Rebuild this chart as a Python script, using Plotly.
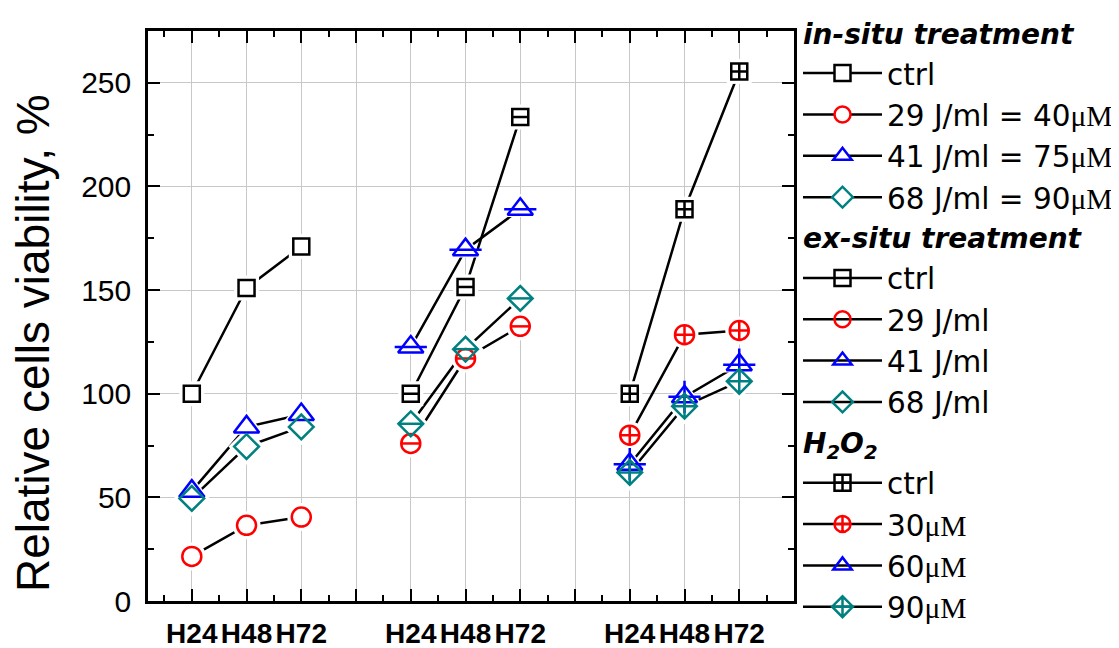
import plotly.graph_objects as go

# ---------------- data ----------------
time_labels = ["H24", "H48", "H72"]
group_titles = ["<b><i>in-situ treatment</i></b>",
                "<b><i>ex-situ treatment</i></b>",
                "<b><i>H<sub>2</sub>O<sub>2</sub></i></b>"]

in_situ_names = ["ctrl", "29 J/ml = 40μM", "41 J/ml = 75μM", "68 J/ml = 90μM"]
in_situ_ctrl = [100, 151, 171]
in_situ_29 = [21.5, 36.5, 40.5]
in_situ_41 = [53, 84, 90]
in_situ_68 = [49.5, 74.5, 84]

ex_situ_names = ["ctrl", "29 J/ml", "41 J/ml", "68 J/ml"]
ex_situ_ctrl = [100, 151.5, 233.5]
ex_situ_29 = [76, 117, 132.5]
ex_situ_41 = [122.5, 169.5, 189]
ex_situ_68 = [85.5, 121.5, 146]

h2o2_names = ["ctrl", "30μM", "60μM", "90μM"]
h2o2_ctrl = [100, 189, 255.5]
h2o2_30 = [80, 128.5, 130.5]
h2o2_60 = [66, 98.5, 114]
h2o2_90 = [62, 94, 106]

groups = [
    (in_situ_names, [in_situ_ctrl, in_situ_29, in_situ_41, in_situ_68]),
    (ex_situ_names, [ex_situ_ctrl, ex_situ_29, ex_situ_41, ex_situ_68]),
    (h2o2_names, [h2o2_ctrl, h2o2_30, h2o2_60, h2o2_90]),
]

# ---------------- styles ----------------
colors = ["#000000", "#FF0000", "#0000FF", "#008080"]
shapes = ["square", "circle", "triangle-up", "diamond"]
sizes = {"square": 16, "circle": 19, "triangle-up": 22, "diamond": 19}
bar_sizes = {"square": 11, "circle": 13, "triangle-up": 23, "diamond": 17}
LW = 2.5
TXT = "Liberation Sans"
LEG = "DejaVu Sans"


def mu(s):
    return s.replace("μM", "<span style='font-family:Liberation Serif'>μM</span>")


fig = go.Figure()

n_per_group = len(time_labels) + 1
all_ticks = []
all_ticktext = []
for gi in range(len(groups)):
    for ti, lab in enumerate(time_labels):
        all_ticks.append(gi * n_per_group + ti + 1)
        all_ticktext.append(lab)
    if gi < len(groups) - 1:
        all_ticks.append(gi * n_per_group + len(time_labels) + 1)
        all_ticktext.append("")

series = []
for gi, (names, vals) in enumerate(groups):
    xs = [gi * n_per_group + ti + 1 for ti in range(len(time_labels))]
    for si, (nm, yv) in enumerate(zip(names, vals)):
        series.append((gi, si, nm, xs, yv))

# 1) main traces (lines + legend)
for gi, si, nm, xs, yv in series:
    shp = shapes[si]
    c = colors[si]
    if gi == 0:
        mk = dict(symbol=shp, size=sizes[shp], color="white", line=dict(color=c, width=LW))
    elif gi == 1:
        mk = dict(symbol=shp + "-open", size=sizes[shp], color=c, line=dict(color=c, width=LW))
    else:
        sym = shp + "-open" if shp == "triangle-up" else shp + "-cross-open"
        mk = dict(symbol=sym, size=sizes[shp], color=c, line=dict(color=c, width=LW))
    fig.add_trace(go.Scatter(
        x=xs, y=yv, mode="lines+markers", name=mu(nm),
        line=dict(color="black", width=LW), marker=mk,
        legendgroup="g%d" % gi,
        legendgrouptitle=dict(text=group_titles[gi]),
        showlegend=True,
    ))

# 2) white halos to make line gaps around markers
for gi, si, nm, xs, yv in series:
    shp = shapes[si]
    fig.add_trace(go.Scatter(
        x=xs, y=yv, mode="markers", showlegend=False, hoverinfo="skip",
        marker=dict(symbol=shp, size=sizes[shp] + 9, color="white", line=dict(width=0)),
    ))

# 3) visible markers
for gi, si, nm, xs, yv in series:
    shp = shapes[si]
    c = colors[si]
    if gi == 2 and shp != "triangle-up":
        sym = shp + "-cross-open"
    else:
        sym = shp + "-open"
    fig.add_trace(go.Scatter(
        x=xs, y=yv, mode="markers", showlegend=False, hoverinfo="skip",
        marker=dict(symbol=sym, size=sizes[shp], color=c, line=dict(color=c, width=LW)),
    ))
    if gi == 1:
        fig.add_trace(go.Scatter(
            x=xs, y=yv, mode="markers", showlegend=False, hoverinfo="skip",
            marker=dict(symbol="line-ew-open", size=bar_sizes[shp], color=c, line=dict(color=c, width=LW)),
        ))
    if gi == 2 and shp == "triangle-up":
        fig.add_trace(go.Scatter(
            x=xs, y=yv, mode="markers", showlegend=False, hoverinfo="skip",
            marker=dict(symbol="cross-thin-open", size=bar_sizes[shp], color=c, line=dict(color=c, width=LW)),
        ))

# page has an 8px body margin -> figure is placed at (8, 8)
OFF = 8
W, H = 1119 - OFF, 648 - OFF
L, T = 148 - OFF, 31 - OFF
pw, ph = 646, 570
R = W - L - pw
B = H - T - ph

fig.update_layout(
    width=W, height=H,
    margin=dict(l=L, r=R, t=T, b=B, pad=0, autoexpand=False),
    plot_bgcolor="white", paper_bgcolor="white",
    font=dict(family=TXT, color="black"),
    showlegend=True,
    legend=dict(
        x=(798 - OFF - L) / pw, xanchor="left",
        yref="container", y=1.0, yanchor="top",
        maxheight=1,
        font=dict(family=LEG, size=29.5, color="black"),
        grouptitlefont=dict(family=LEG, size=28, color="black"),
        tracegroupgap=0, itemwidth=79, traceorder="grouped",
        bgcolor="rgba(0,0,0,0)", borderwidth=0, valign="middle",
    ),
    xaxis=dict(
        range=[0.2, 12], tickmode="array", tickvals=all_ticks, ticktext=all_ticktext,
        ticks="inside", ticklen=12, tickwidth=2, tickcolor="black",
        showline=True, linewidth=LW, linecolor="black", mirror="ticks",
        showgrid=True, gridcolor="#c8c8c8", gridwidth=1, zeroline=False,
        tickfont=dict(family=TXT, size=28, weight="bold", color="black"),
        ticklabelstandoff=6,
        minor=dict(ticks="inside", ticklen=6, tickwidth=2, tickcolor="black",
                   tick0=0.5, dtick=1, showgrid=False),
    ),
    yaxis=dict(
        range=[0, 275], tickmode="linear", tick0=0, dtick=50,
        ticks="inside", ticklen=12, tickwidth=2, tickcolor="black",
        showline=True, linewidth=LW, linecolor="black", mirror="ticks",
        showgrid=True, gridcolor="#c8c8c8", gridwidth=1, zeroline=False,
        tickfont=dict(family=TXT, size=30, color="black"),
        ticklabelstandoff=8,
        minor=dict(ticks="inside", ticklen=6, tickwidth=2, tickcolor="black",
                   dtick=25, showgrid=False),
    ),
    annotations=[dict(
        text="Relative cells viability, %", textangle=-90,
        xref="paper", yref="paper", x=(33 - OFF - L) / pw, y=(601 - 343) / ph,
        xanchor="center", yanchor="middle", showarrow=False,
        font=dict(family=TXT, size=46, color="black"),
    )],
)

fig.write_html("out.html")
